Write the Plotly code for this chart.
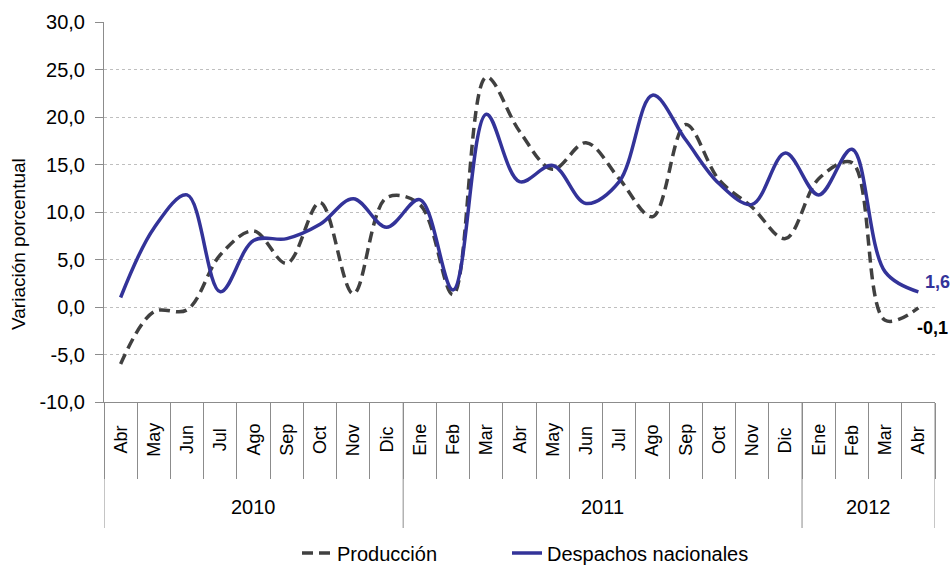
import plotly.graph_objects as go

months = ["Abr", "May", "Jun", "Jul", "Ago", "Sep", "Oct", "Nov", "Dic",
          "Ene", "Feb", "Mar", "Abr", "May", "Jun", "Jul", "Ago", "Sep", "Oct", "Nov", "Dic",
          "Ene", "Feb", "Mar", "Abr"]
years = ["2010"] * 9 + ["2011"] * 12 + ["2012"] * 4
produccion = [-6.0, -0.5, -0.3, 5.5, 8.0, 4.6, 11.0, 1.4, 11.5,
              10.8, 1.3, 24.2, 18.5, 14.5, 17.3, 13.5, 9.5, 19.2, 13.4, 10.5, 7.2,
              13.5, 15.2, -1.4, -0.1]
despachos = [1.0, 8.3, 11.8, 1.6, 7.0, 7.2, 8.7, 11.4, 8.4,
             11.3, 1.8, 20.3, 13.2, 14.9, 10.9, 13.2, 22.3, 17.6, 13.0, 10.8, 16.2,
             11.8, 16.6, 3.7, 1.6]
y_ticks = [-10, -5, 0, 5, 10, 15, 20, 25, 30]
y_ticktext = [f"{v:.1f}".replace(".", ",") for v in y_ticks]

x = list(range(len(months)))
FONT = "Liberation Sans, Arial, sans-serif"
BLUE = "#333399"
DARK = "#404040"
GRAY = "#8c8c8c"
L, R, T, B = 104, 17, 22, 164
W, H = 952, 566
PLOT_W = W - L - R
PLOT_H = H - T - B


def py(pix):  # paper y from page pixel y
    return (H - B - pix) / PLOT_H


def px(pix):  # paper x from page pixel x
    return (pix - L) / PLOT_W


fig = go.Figure()
fig.add_trace(go.Scatter(x=x, y=produccion, name="Producción", mode="lines", legend="legend",
                         line=dict(color=DARK, width=3.5, dash="11px,6px", shape="spline", smoothing=1)))
fig.add_trace(go.Scatter(x=x, y=despachos, name="Despachos nacionales", mode="lines", legend="legend2",
                         line=dict(color=BLUE, width=3.5, shape="spline", smoothing=1)))

# end labels
fig.add_annotation(x=x[-1], y=despachos[-1], text="<b>" + f"{despachos[-1]:.1f}".replace(".", ",") + "</b>",
                   showarrow=False, xanchor="left", yanchor="middle", xshift=5, yshift=10,
                   font=dict(color=BLUE, size=18, family=FONT))
fig.add_annotation(x=x[-1], y=produccion[-1], text="<b>" + f"{produccion[-1]:.1f}".replace(".", ",") + "</b>",
                   showarrow=False, xanchor="left", yanchor="middle", xshift=-3, yshift=-20,
                   font=dict(color="#000000", size=18, family=FONT))

# y axis title
fig.add_annotation(x=px(18), y=py(244), xref="paper", yref="paper", text="Variación porcentual",
                   textangle=-90, showarrow=False, xanchor="center", yanchor="middle",
                   font=dict(size=19, family=FONT, color="#000000"))

# month labels (centred in the first label band)
for i, m in enumerate(months):
    fig.add_annotation(x=i, y=py(440), xref="x", yref="paper", text=m,
                       textangle=-90, showarrow=False, xanchor="center", yanchor="middle",
                       font=dict(size=18, family=FONT, color="#000000"))

# year groups
groups = []
for i, yr in enumerate(years):
    if not groups or groups[-1][0] != yr:
        groups.append([yr, i, i])
    else:
        groups[-1][2] = i
for yr, a, b in groups:
    fig.add_annotation(x=(a + b) / 2, y=py(507), xref="x", yref="paper",
                       text=yr, showarrow=False, yanchor="middle",
                       font=dict(size=20, family=FONT, color="#000000"))
    fig.add_shape(type="line", xref="x", yref="paper", x0=a - 0.5, x1=a - 0.5,
                  y0=0, y1=py(528), line=dict(color=GRAY, width=1))
fig.add_shape(type="line", xref="x", yref="paper", x0=x[-1] + 0.5, x1=x[-1] + 0.5,
              y0=0, y1=py(528), line=dict(color=GRAY, width=1))

fig.update_layout(
    width=W, height=H,
    margin=dict(l=L, r=R, t=T, b=B, autoexpand=False),
    plot_bgcolor="white", paper_bgcolor="white",
    font=dict(family=FONT, size=18, color="#000000"),
    showlegend=True,
    legend=dict(orientation="h", x=px(297), xanchor="left", y=py(553), yanchor="middle",
                font=dict(size=20, family=FONT)),
    legend2=dict(orientation="h", x=px(507), xanchor="left", y=py(553), yanchor="middle",
                 font=dict(size=20, family=FONT)),
)
fig.update_xaxes(
    range=[-0.5, len(months) - 0.5],
    tickmode="array", tickvals=x, ticktext=[""] * len(x),
    ticks="", showgrid=False, zeroline=False, automargin=False,
    showline=True, linecolor=GRAY, linewidth=1,
    minor=dict(ticks="outside", tick0=0.5, dtick=1, ticklen=76, tickcolor=GRAY, tickwidth=1, showgrid=False),
)
fig.update_yaxes(
    range=[-10, 30], tickmode="array", tickvals=y_ticks, ticktext=y_ticktext,
    showgrid=True, gridcolor="#bfbfbf", griddash="dot", gridwidth=1,
    zeroline=False, showline=True, linecolor=GRAY, linewidth=1, automargin=False,
    ticks="outside", ticklen=8, tickcolor=GRAY, ticklabelstandoff=6,
    tickfont=dict(size=20, family=FONT),
)

fig.write_html("out.html", config={"displayModeBar": False},
               post_script="document.body.style.margin='0';document.body.style.padding='0';")
